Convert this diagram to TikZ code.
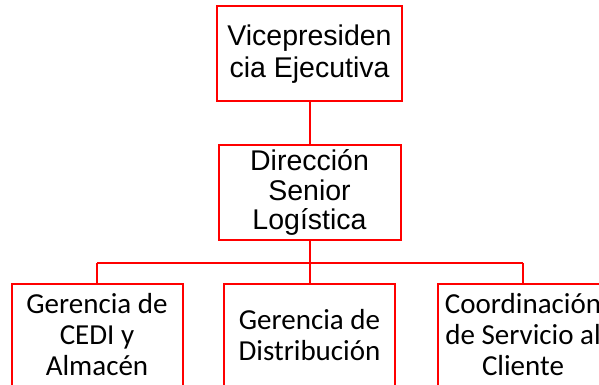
\documentclass[tikz,border=0pt]{standalone}
\usepackage{fontspec}
\setmainfont{Liberation Sans}
\newfontfamily\orgbody{Carlito}
\definecolor{orgRed}{HTML}{FF0000}
\usetikzlibrary{positioning}

\begin{document}
\begin{tikzpicture}[x=1pt, y=-1pt,
  unit/.style={draw=orgRed, line width=2pt, fill=white, align=center, inner sep=0pt},
  head/.style={unit, font=\fontsize{28.5}{32}\selectfont},
  area/.style={unit, anchor=north, minimum width=171pt, minimum height=110pt,
    font=\orgbody\fontsize{29}{31}\selectfont, text depth=9pt},
  link/.style={draw=orgRed, line width=2pt}]

  \useasboundingbox (0,0) rectangle (599,385);

  \node[head, minimum width=185pt, minimum height=95pt] (vp) at (309.5,54) {Vicepresiden\\cia Ejecutiva};
  \node[head, minimum width=182pt, minimum height=95pt, font=\fontsize{28.5}{29.5}\selectfont] (dsl) at (309.5,192.5) {Dirección\\Senior\\Logística};

  \node[area] (g1) at (97,283) {Gerencia de\\CEDI y\\Almacén};
  \node[area] (g2) at (309.5,283) {Gerencia de\\Distribución};
  \node[area] (g3) at (523,283) {Coordinación\\de Servicio al\\Cliente};

  \coordinate (bus) at (309.5,263);
  \draw[link] (vp) -- (dsl);
  \draw[link] (dsl) -- (bus);
  \draw[link] (bus -| g1) -- (bus -| g3);
  \foreach \n in {g1,g2,g3}
    \draw[link] (bus -| \n) -- (\n);
\end{tikzpicture}
\end{document}
